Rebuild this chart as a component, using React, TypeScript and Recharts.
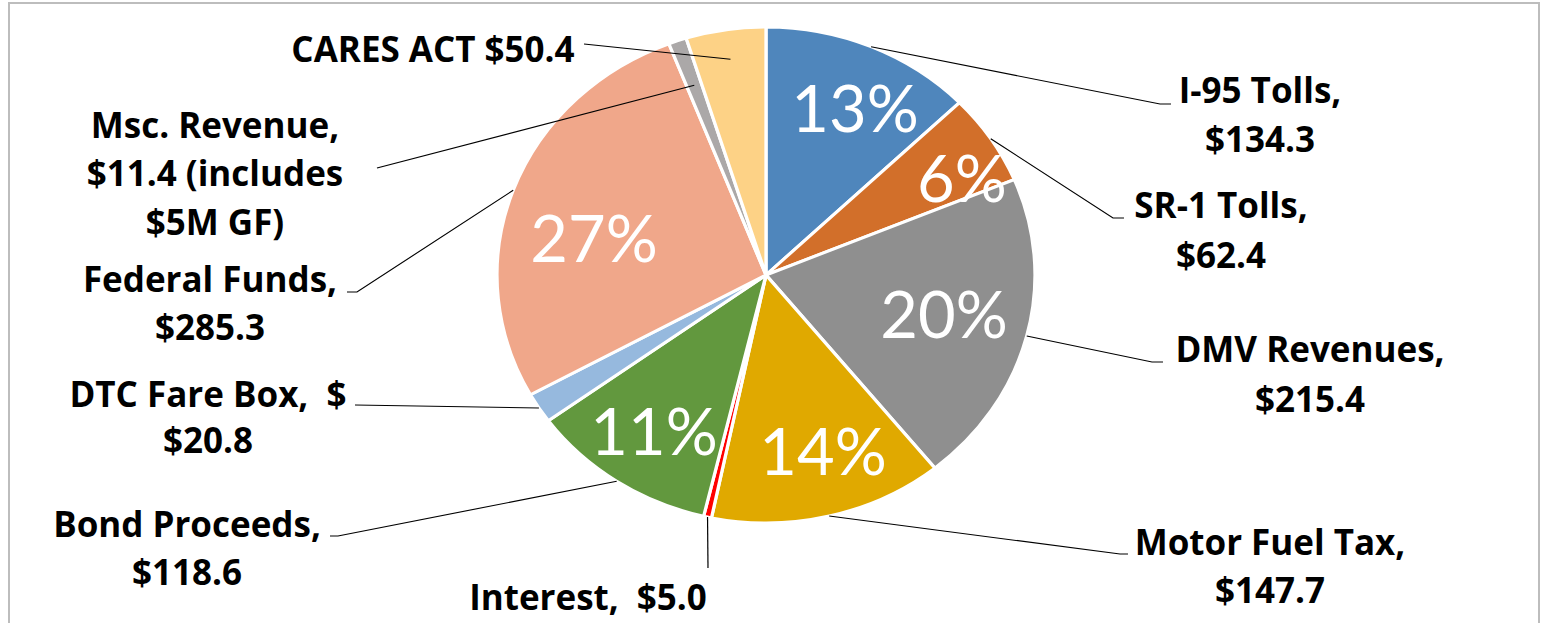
import React from 'react';
import { PieChart, Pie, Cell } from 'recharts';

// ---- data ----
const categories = [
  'I-95 Tolls',
  'SR-1 Tolls',
  'DMV Revenues',
  'Motor Fuel Tax',
  'Interest',
  'Bond Proceeds',
  'DTC Fare Box',
  'Federal Funds',
  'Msc. Revenue',
  'CARES ACT',
];
const values = [134.3, 62.4, 215.4, 147.7, 5.0, 118.6, 20.8, 285.3, 11.4, 50.4];
const labelLines: string[][] = [
  ['I-95 Tolls,', '$134.3'],
  ['SR-1 Tolls,', '$62.4'],
  ['DMV Revenues,', '$215.4'],
  ['Motor Fuel Tax,', '$147.7'],
  ['Interest,  $5.0'],
  ['Bond Proceeds,', '$118.6'],
  ['DTC Fare Box,  $', '$20.8'],
  ['Federal Funds,', '$285.3'],
  ['Msc. Revenue,', '$11.4 (includes', '$5M GF)'],
  ['CARES ACT $50.4'],
];
const showPercent = [true, true, true, true, false, true, false, true, false, false];
const colors = [
  '#4F86BC',
  '#D26F2A',
  '#8F8F8F',
  '#E0A900',
  '#FF0000',
  '#62983E',
  '#96B9DE',
  '#F0A78A',
  '#ABA8A8',
  '#FDD286',
];

const data = categories.map((name, i) => ({ name, value: values[i] }));

// ---- layout (screen px) ----
const SX = 1.0847; // horizontal stretch of the reference picture
const W = 1543 / SX;
const H = 623;
const CX = 766 / SX;
const CY = 275;
const R = 248;
const RAD = Math.PI / 180;

type LabelLayout = {
  r: number;
  pts: [number, number][];
  tx: number;
  ty: number[];
  px?: number;
  py?: number;
};
const labelLayout: LabelLayout[] = [
  { r: 1, pts: [[1160, 104], [1171, 104]], tx: 1260, ty: [103, 152], px: 855, py: 132 },
  { r: 1, pts: [[1113, 218], [1124, 218]], tx: 1221, ty: [218, 268], px: 962, py: 202 },
  { r: 1, pts: [[1152, 362], [1163, 362]], tx: 1310, ty: [362, 412], px: 944, py: 338 },
  { r: 1, pts: [[1120, 554], [1128, 554]], tx: 1270, ty: [555, 603], px: 823, py: 475 },
  { r: 1, pts: [[708, 568]], tx: 588, ty: [610] },
  { r: 1, pts: [[338, 536], [330, 536]], tx: 187, ty: [537, 585], px: 654, py: 455 },
  { r: 1, pts: [[355, 405]], tx: 208, ty: [407, 453] },
  { r: 1, pts: [[357, 292], [347, 292]], tx: 210, ty: [292, 340], px: 594, py: 262 },
  { r: 0.81, pts: [[377, 168]], tx: 215, ty: [138, 186, 235] },
  { r: 0.88, pts: [[584, 44]], tx: 433, ty: [62] },
];

const renderLabel = (props: any) => {
  const { cx, cy, midAngle, outerRadius, index, percent } = props;
  const L = labelLayout[index];
  const sx = cx + outerRadius * L.r * Math.cos(-midAngle * RAD);
  const sy = cy + outerRadius * L.r * Math.sin(-midAngle * RAD);
  const pts: [number, number][] = [[sx, sy], ...L.pts.map(([x, y]) => [x / SX, y] as [number, number])];
  const d = pts.map((p, i) => `${i ? 'L' : 'M'}${p[0]},${p[1]}`).join(' ');
  return (
    <g key={`lbl-${index}`}>
      <path d={d} stroke="#000" strokeWidth={1.1} fill="none" />
      {showPercent[index] && L.px !== undefined && (
        <text
          transform={`scale(${1 / SX},1)`}
          x={L.px}
          y={L.py}
          textAnchor="middle"
          fill="#fff"
          fontSize={65}
          fontFamily="Lato, 'Noto Sans', sans-serif"
        >
          {Math.round(percent * 100)}%
        </text>
      )}
      <text
        transform={`scale(${1 / SX},1)`}
        textAnchor="middle"
        fill="#000"
        fontSize={35}
        fontWeight={700}
        fontFamily="'Open Sans', Lato, sans-serif"
        style={{ whiteSpace: 'pre' }}
      >
        {labelLines[index].map((t, j) => (
          <tspan key={j} x={L.tx} y={L.ty[j]}>
            {t}
          </tspan>
        ))}
      </text>
    </g>
  );
};

export default function App() {
  return (
    <div
      style={{
        position: 'absolute',
        left: 0,
        top: 0,
        width: 1543,
        height: 623,
        background: '#fff',
        overflow: 'hidden',
      }}
    >
      <div
        style={{
          position: 'absolute',
          left: 8,
          top: 2,
          width: 1528,
          height: 660,
          border: '2px solid #BDBDBD',
        }}
      />
      <div
        style={{
          position: 'absolute',
          left: 0,
          top: 0,
          width: W,
          height: H,
          transform: `scaleX(${SX})`,
          transformOrigin: '0 0',
        }}
      >
        <PieChart width={W} height={H} margin={{ top: 0, right: 0, bottom: 0, left: 0 }}>
          <Pie
            data={data}
            dataKey="value"
            nameKey="name"
            cx={CX}
            cy={CY}
            outerRadius={R}
            startAngle={90}
            endAngle={-270}
            stroke="#fff"
            strokeWidth={3}
            label={renderLabel}
            labelLine={false}
            isAnimationActive={false}
          >
            {data.map((d, i) => (
              <Cell key={d.name} fill={colors[i]} />
            ))}
          </Pie>
        </PieChart>
      </div>
    </div>
  );
}
